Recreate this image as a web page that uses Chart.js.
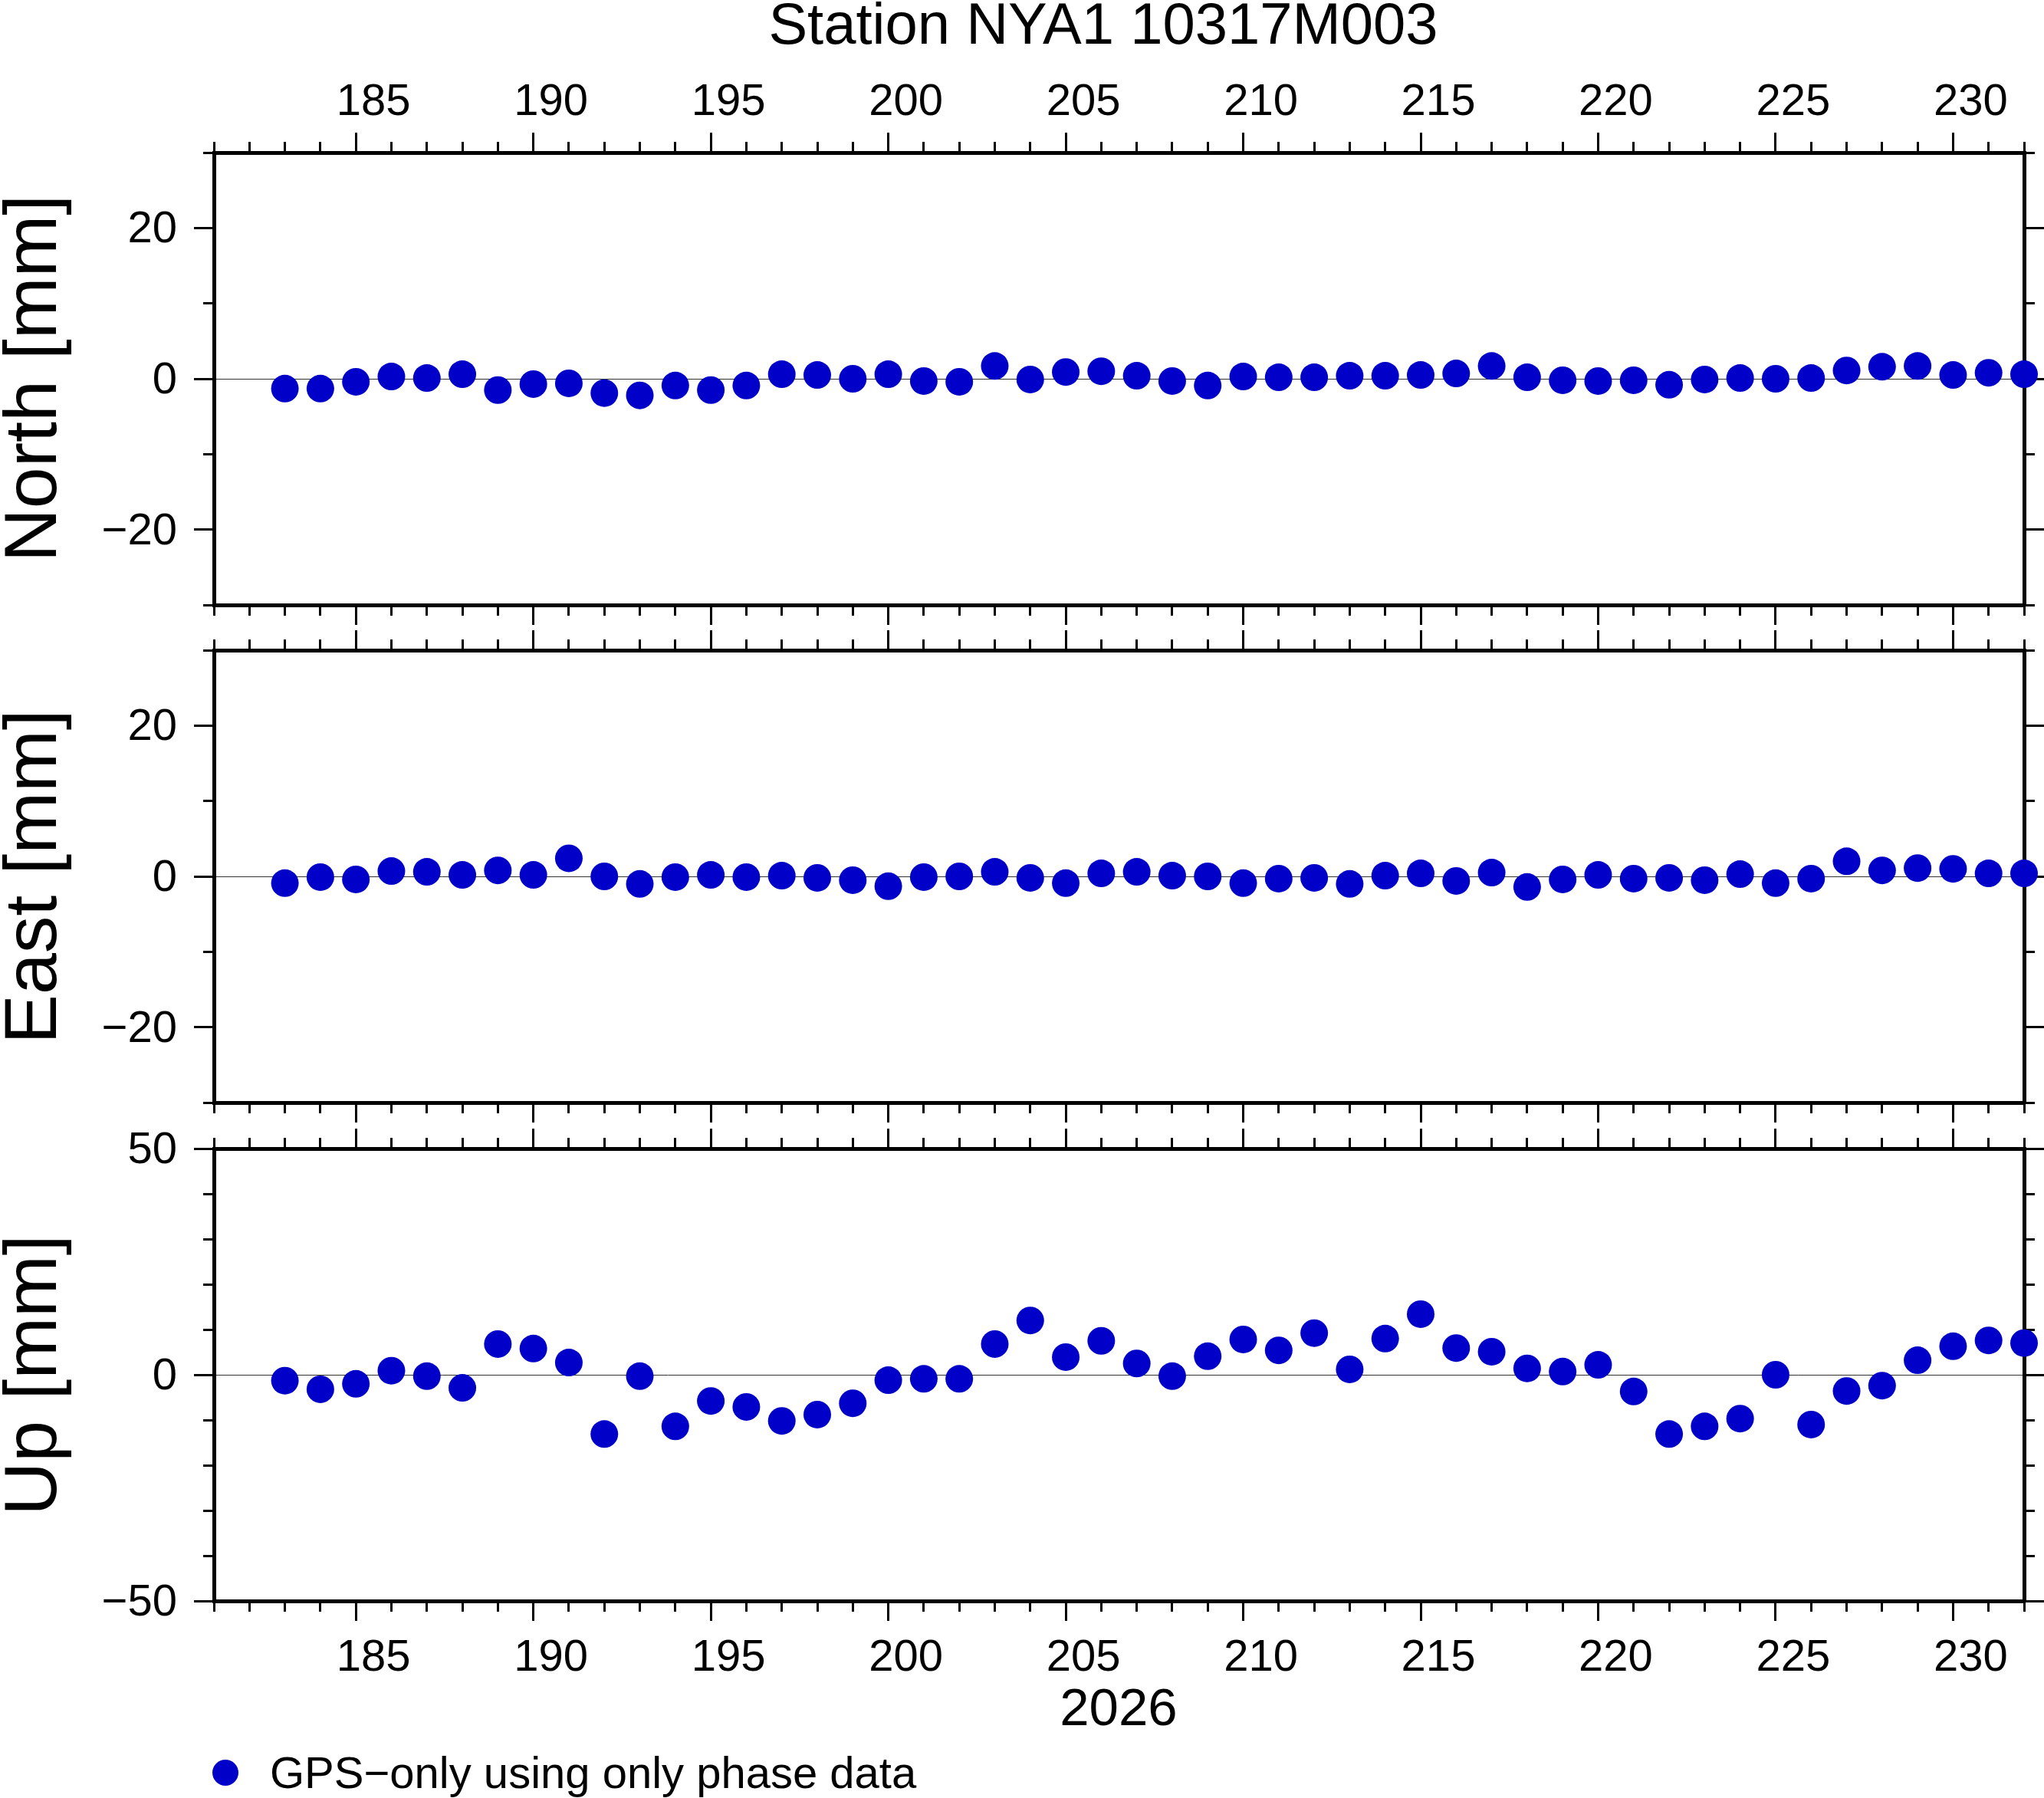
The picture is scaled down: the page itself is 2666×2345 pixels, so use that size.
<!DOCTYPE html>
<html>
<head>
<meta charset="utf-8">
<script src="https://cdn.jsdelivr.net/npm/chart.js@4.4.1/dist/chart.umd.min.js"></script>
<style>
  body { margin: 0; background: #fff; width: 2666px; height: 2345px; position: relative; overflow: hidden;
         font-family: 'Liberation Sans', Arial, Helvetica, sans-serif; }
  canvas { position: absolute; left: 0; top: 0; }
  .lbl { position: absolute; white-space: nowrap; line-height: 1; color: #000; text-align: center; }
  .ytitle { width: 900px; height: 97px; font-size: 97px; transform: rotate(-90deg); }
  #legend-dot { position: absolute; left: 277px; width: 34px; height: 34px; border-radius: 50%; background: #0000c8; }
</style>
</head>
<body>
<div class="lbl" style="left:439px; top:-7px; width:2000px; font-size:76px;">Station NYA1 10317M003</div>
<div class="lbl ytitle" style="left:-411px; top:445px;">North [mm]</div>
<div class="lbl ytitle" style="left:-411px; top:1095px;">East [mm]</div>
<div class="lbl ytitle" style="left:-411px; top:1745px;">Up [mm]</div>
<div class="lbl" style="left:959px; top:2192px; width:1000px; font-size:69px;">2026</div>
<div id="legend-dot" style="top:2295px;"></div>
<div class="lbl" style="left:352px; top:2283px; font-size:58px; text-align:left;">GPS&#8722;only using only phase data</div>

<canvas id="northChart" width="2666" height="2345" style="width:2666px;height:2345px"></canvas>
<canvas id="eastChart" width="2666" height="2345" style="width:2666px;height:2345px"></canvas>
<canvas id="upChart" width="2666" height="2345" style="width:2666px;height:2345px"></canvas>

<script>
// day of year 2026
const days = [183, 184, 185, 186, 187, 188, 189, 190, 191, 192, 193, 194, 195, 196, 197, 198, 199, 200, 201, 202,
  203, 204, 205, 206, 207, 208, 209, 210, 211, 212, 213, 214, 215, 216, 217, 218, 219, 220, 221, 222,
  223, 224, 225, 226, 227, 228, 229, 230, 231, 232];

// residuals [mm]
const north = [-1.3, -1.3, -0.4, 0.3, 0.1, 0.6, -1.5, -0.7, -0.6, -1.9, -2.2, -0.9, -1.5, -0.9, 0.6, 0.5, 0.0, 0.6, -0.3, -0.4,
  1.7, -0.1, 0.9, 1.0, 0.4, -0.3, -0.9, 0.3, 0.2, 0.2, 0.4, 0.4, 0.5, 0.7, 1.7, 0.2, -0.2, -0.3, -0.2, -0.8,
  -0.1, 0.1, 0.0, 0.1, 1.1, 1.6, 1.7, 0.5, 0.8, 0.6];
const east = [-0.9, -0.1, -0.4, 0.7, 0.6, 0.2, 0.8, 0.2, 2.4, 0.0, -1.0, -0.1, 0.2, -0.1, 0.1, -0.2, -0.5, -1.3, -0.1, 0.0,
  0.6, -0.2, -0.9, 0.4, 0.6, 0.1, 0.0, -0.9, -0.3, -0.2, -1.0, 0.1, 0.4, -0.6, 0.5, -1.4, -0.4, 0.2, -0.3, -0.2,
  -0.5, 0.3, -0.9, -0.3, 2.0, 0.8, 1.1, 1.0, 0.4, 0.4];
const up = [-1.3, -3.2, -2.0, 0.9, -0.3, -2.9, 6.8, 5.8, 2.7, -13.1, -0.3, -11.4, -5.8, -7.1, -10.2, -8.8, -6.3, -1.2, -0.9, -0.9,
  6.8, 12.0, 3.9, 7.5, 2.5, -0.3, 4.1, 7.8, 5.4, 9.2, 1.2, 8.0, 13.4, 5.9, 5.1, 1.4, 0.7, 2.2, -3.7, -13.1,
  -11.4, -9.7, 0.0, -11.0, -3.6, -2.4, 3.2, 6.3, 7.6, 7.0];

// tick labels
const xTickLabels = [185, 190, 195, 200, 205, 210, 215, 220, 225, 230];
const neTickLabels = [-20, 0, 20];
const upTickLabels = [-50, 0, 50];

const X_MIN = 181, X_MAX = 232;
const PAGE_H = 2345, LEFT = 279, RIGHT_PAD = 26;
const DOT = '#0000c8';

Chart.defaults.font.family = "'Liberation Sans', Arial, Helvetica, sans-serif";
Chart.defaults.color = '#000';

// size: box height the axis takes (labels need room, they are clipped to the box)
function axisX(pos, major, showLabels, size) {
  return {
    type: 'linear', position: pos, min: X_MIN, max: X_MAX,
    weight: major ? 1 : 0,
    afterFit: s => { s.height = size; },
    afterBuildTicks: major ? (s => { s.ticks = xTickLabels.map(v => ({ value: v })); }) : undefined,
    ticks: major
      ? { display: showLabels, padding: pos === 'top' ? 4 : 14, labelOffset: 23, maxRotation: 0, autoSkip: false,
          font: { size: 58 }, color: '#000' }
      : { display: false, stepSize: 1 },
    grid: { drawOnChartArea: false, drawTicks: true, tickLength: major ? 26 : 14, tickWidth: 3, tickColor: '#000' },
    border: { display: major, width: 5, color: '#000' }
  };
}

function axisY(pos, major, min, max, labels, showLabels, size) {
  return {
    type: 'linear', position: pos, min: min, max: max,
    weight: major ? 1 : 0,
    afterFit: s => { s.width = size; },
    afterBuildTicks: major ? (s => { s.ticks = labels.map(v => ({ value: v })); }) : undefined,
    ticks: major
      ? { display: showLabels, padding: 22, labelOffset: 3, autoSkip: false, font: { size: 58 }, color: '#000',
          callback: v => String(v).replace('-', '\u2212') }
      : { display: false, stepSize: 10 },
    grid: {
      drawOnChartArea: major && showLabels,
      color: ctx => (ctx.tick && ctx.tick.value === 0) ? '#333' : 'rgba(0,0,0,0)',
      lineWidth: 1,
      drawTicks: true, tickLength: major ? 26 : 14, tickWidth: 3, tickColor: '#000'
    },
    border: { display: major, width: 5, color: '#000' }
  };
}

function makePanel(id, values, yMin, yMax, yLabels, top, bottom, topLabels, bottomLabels) {
  const ctx = document.getElementById(id).getContext('2d');
  const topSize = topLabels ? top : 0;
  const bottomSize = bottomLabels ? PAGE_H - bottom : 0;
  return new Chart(ctx, {
    type: 'scatter',
    data: {
      datasets: [{
        label: 'GPS\u2212only using only phase data',
        data: days.map((d, i) => ({ x: d, y: values[i] })),
        backgroundColor: DOT,
        borderWidth: 0,
        pointRadius: 18,
        pointHoverRadius: 18,
        clip: false
      }]
    },
    options: {
      responsive: false,
      animation: false,
      events: [],
      layout: { padding: { left: 0, right: RIGHT_PAD, top: top - topSize, bottom: PAGE_H - bottom - bottomSize } },
      plugins: { legend: { display: false }, tooltip: { enabled: false }, title: { display: false } },
      scales: {
        x: axisX('bottom', true, bottomLabels, bottomSize),
        xMinB: axisX('bottom', false, false, 0),
        xTop: axisX('top', true, topLabels, topSize),
        xMinT: axisX('top', false, false, 0),
        y: axisY('left', true, yMin, yMax, yLabels, true, LEFT),
        yMinL: axisY('left', false, yMin, yMax, yLabels, false, 0),
        yRight: axisY('right', true, yMin, yMax, yLabels, false, 0),
        yMinR: axisY('right', false, yMin, yMax, yLabels, false, 0)
      }
    }
  });
}

makePanel('northChart', north, -30, 30, neTickLabels, 199, 789, true, false);
makePanel('eastChart', east, -30, 30, neTickLabels, 848, 1438, false, false);
makePanel('upChart', up, -50, 50, upTickLabels, 1498, 2088, false, true);
</script>
</body>
</html>
